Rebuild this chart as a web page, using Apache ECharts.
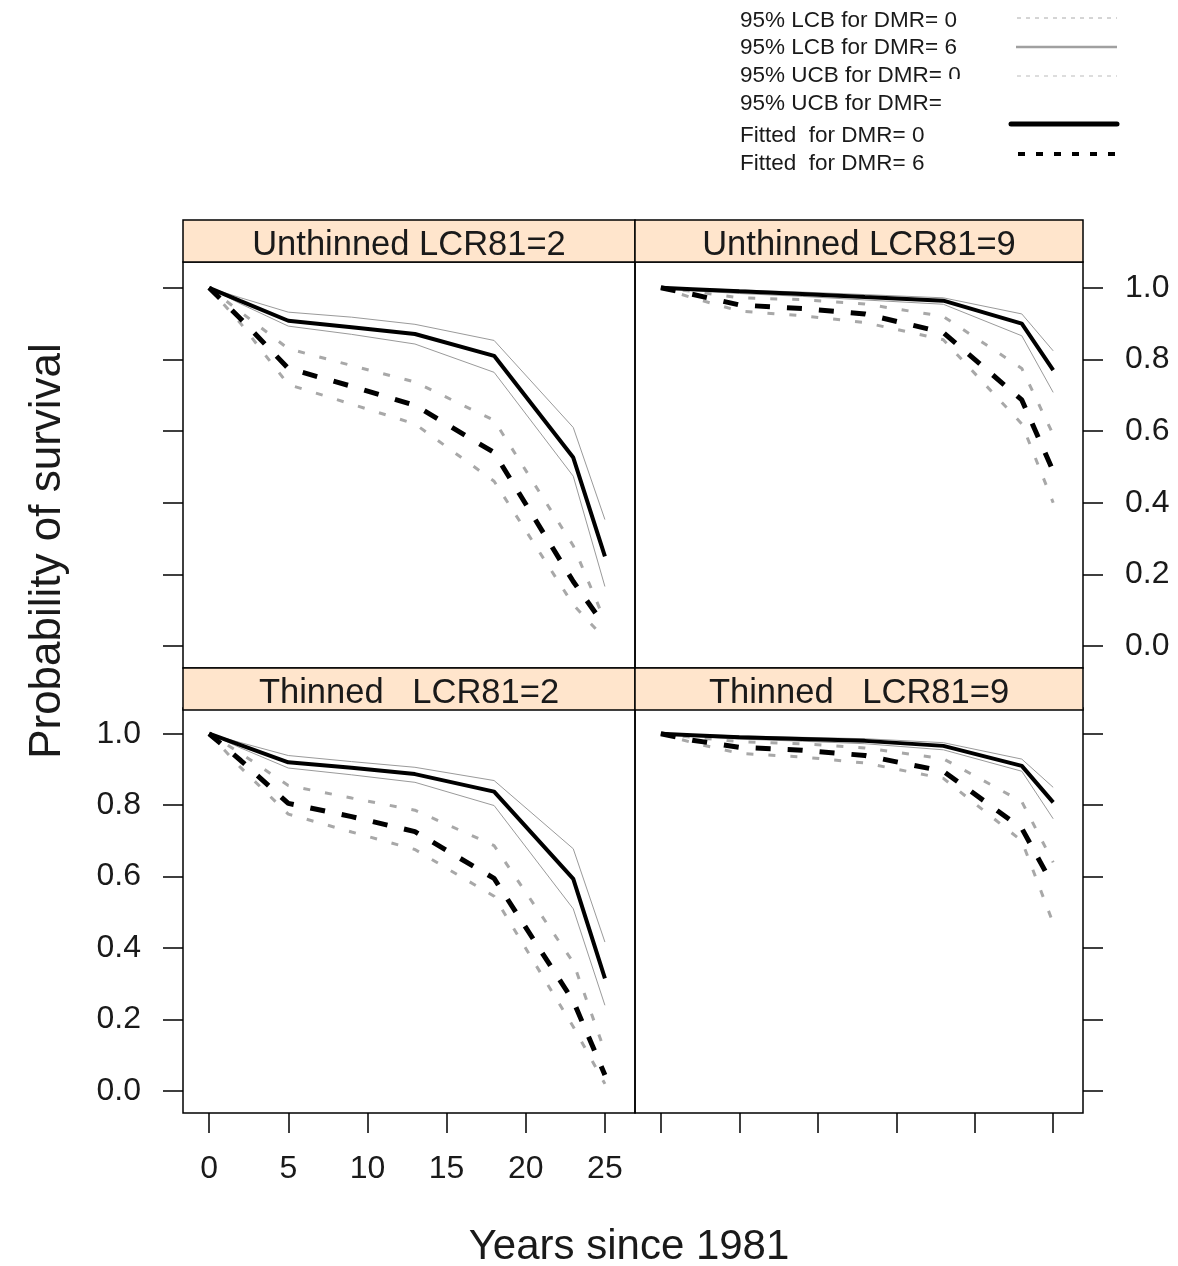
<!DOCTYPE html>
<html>
<head>
<meta charset="utf-8">
<title>Probability of survival</title>
<script src="https://cdn.jsdelivr.net/npm/echarts/dist/echarts.min.js"></script>
<style>
  html, body { margin: 0; padding: 0; background: #fff; }
  #chart { width: 1178px; height: 1266px; }
</style>
</head>
<body>
<div id="chart"></div>
<script>
// Survey years (years since 1981)
const years = [0, 2, 5, 9, 13, 18, 23, 25];

// Unthinned, LCR81 = 2
const ut2Fit0 = [1.0, 0.963, 0.908, 0.890, 0.871, 0.810, 0.526, 0.250];
const ut2Ucb0 = [1.0, 0.972, 0.932, 0.918, 0.898, 0.853, 0.610, 0.353];
const ut2Lcb0 = [1.0, 0.955, 0.893, 0.870, 0.843, 0.764, 0.474, 0.166];
const ut2Fit6 = [1.0, 0.913, 0.775, 0.725, 0.672, 0.540, 0.180, 0.055];
const ut2Ucb6 = [1.0, 0.932, 0.830, 0.783, 0.737, 0.630, 0.280, 0.070];
const ut2Lcb6 = [1.0, 0.900, 0.730, 0.675, 0.620, 0.460, 0.115, 0.020];

// Unthinned, LCR81 = 9
const ut9Fit0 = [1.0, 0.996, 0.990, 0.983, 0.974, 0.964, 0.900, 0.770];
const ut9Ucb0 = [1.0, 0.998, 0.994, 0.988, 0.981, 0.972, 0.927, 0.824];
const ut9Lcb0 = [1.0, 0.992, 0.984, 0.976, 0.966, 0.954, 0.866, 0.708];
const ut9Fit6 = [1.0, 0.982, 0.952, 0.942, 0.927, 0.875, 0.687, 0.488];
const ut9Ucb6 = [1.0, 0.990, 0.972, 0.967, 0.955, 0.920, 0.775, 0.590];
const ut9Lcb6 = [1.0, 0.972, 0.935, 0.922, 0.903, 0.855, 0.620, 0.400];

// Thinned, LCR81 = 2
const t2Fit0 = [1.0, 0.968, 0.920, 0.905, 0.887, 0.838, 0.594, 0.315];
const t2Ucb0 = [1.0, 0.975, 0.939, 0.922, 0.906, 0.869, 0.678, 0.417];
const t2Lcb0 = [1.0, 0.960, 0.904, 0.885, 0.864, 0.799, 0.510, 0.240];
const t2Fit6 = [1.0, 0.925, 0.805, 0.768, 0.726, 0.595, 0.252, 0.045];
const t2Ucb6 = [1.0, 0.945, 0.855, 0.820, 0.786, 0.687, 0.360, 0.110];
const t2Lcb6 = [1.0, 0.905, 0.775, 0.725, 0.676, 0.545, 0.180, 0.020];

// Thinned, LCR81 = 9
const t9Fit0 = [1.0, 0.996, 0.990, 0.985, 0.980, 0.966, 0.910, 0.808];
const t9Ucb0 = [1.0, 0.998, 0.994, 0.990, 0.986, 0.975, 0.929, 0.850];
const t9Lcb0 = [1.0, 0.993, 0.985, 0.979, 0.972, 0.955, 0.895, 0.762];
const t9Fit6 = [1.0, 0.982, 0.962, 0.954, 0.939, 0.895, 0.735, 0.575];
const t9Ucb6 = [1.0, 0.990, 0.978, 0.972, 0.960, 0.930, 0.810, 0.640];
const t9Lcb6 = [1.0, 0.975, 0.945, 0.935, 0.918, 0.875, 0.700, 0.470];

// Axis tick labels
const xTicks = [0, 5, 10, 15, 20, 25];
const yTicks = [0, 0.2, 0.4, 0.6, 0.8, 1.0];

// Panel titles
const stripTitles = ['Unthinned LCR81=2', 'Unthinned LCR81=9', 'Thinned   LCR81=2', 'Thinned   LCR81=9'];

// Legend entries
const legendLabels = [
  '95% LCB for DMR= 0',
  '95% LCB for DMR= 6',
  '95% UCB for DMR= 0',
  '95% UCB for DMR= 6',
  'Fitted  for DMR= 0',
  'Fitted  for DMR= 6'
];

const FONT = 'Liberation Sans, Arial, sans-serif';
const INK = '#1a1a1a';
const panelData = [
  { fit0: ut2Fit0, ucb0: ut2Ucb0, lcb0: ut2Lcb0, fit6: ut2Fit6, ucb6: ut2Ucb6, lcb6: ut2Lcb6 },
  { fit0: ut9Fit0, ucb0: ut9Ucb0, lcb0: ut9Lcb0, fit6: ut9Fit6, ucb6: ut9Ucb6, lcb6: ut9Lcb6 },
  { fit0: t2Fit0, ucb0: t2Ucb0, lcb0: t2Lcb0, fit6: t2Fit6, ucb6: t2Ucb6, lcb6: t2Lcb6 },
  { fit0: t9Fit0, ucb0: t9Ucb0, lcb0: t9Lcb0, fit6: t9Fit6, ucb6: t9Ucb6, lcb6: t9Lcb6 }
];

// Panel layout (pixels)
const colLeft = [183, 635];
const colWidth = [452, 448];
const stripTop = [220, 668];
const stripH = 42;
const bodyTop = [262, 708];
const bodyH = [406, 405];

const grids = [], xAxes = [], yAxes = [], series = [], graphics = [];

const pairs = arr => years.map((x, i) => [x, arr[i]]);

panelData.forEach((p, k) => {
  const row = Math.floor(k / 2), col = k % 2;
  grids.push({
    left: colLeft[col], top: bodyTop[row], width: colWidth[col], height: bodyH[row],
    show: true, borderColor: '#000', borderWidth: 1.5, backgroundColor: 'transparent'
  });
  const bottomRow = row === 1;
  xAxes.push({
    type: 'value', gridIndex: k, min: -1.65, max: 26.9, position: 'bottom',
    splitLine: { show: false },
    axisLine: { show: false, onZero: false },
    axisTick: { show: bottomRow, length: 20, inside: false, customValues: xTicks,
                lineStyle: { color: '#000', width: 1.5 } },
    axisLabel: { show: bottomRow && col === 0, customValues: xTicks, margin: 40,
                 fontSize: 32, fontFamily: FONT, color: INK }
  });
  const showYLabels = (row === 1 && col === 0) || (row === 0 && col === 1);
  yAxes.push({
    type: 'value', gridIndex: k, min: -0.0615, max: 1.072,
    position: col === 0 ? 'left' : 'right',
    splitLine: { show: false },
    axisLine: { show: false, onZero: false },
    axisTick: { show: true, length: 20, inside: false, customValues: yTicks,
                lineStyle: { color: '#000', width: 1.5 } },
    axisLabel: { show: showYLabels, customValues: yTicks, margin: 42,
                 fontSize: 32, fontFamily: FONT, color: INK,
                 formatter: v => v.toFixed(1) }
  });

  const base = { type: 'line', xAxisIndex: k, yAxisIndex: k, symbol: 'none',
                 showSymbol: false, silent: true, animation: false };
  // DMR = 6 interval bounds: grey dotted
  [p.ucb6, p.lcb6].forEach(arr => series.push(Object.assign({}, base, {
    data: pairs(arr), z: 2,
    lineStyle: { color: '#a8a8a8', width: 3, type: [7, 15], cap: 'butt' }
  })));
  // DMR = 0 interval bounds: thin grey
  [p.ucb0, p.lcb0].forEach(arr => series.push(Object.assign({}, base, {
    data: pairs(arr), z: 3,
    lineStyle: { color: '#9a9a9a', width: 1, type: 'solid' }
  })));
  // Fitted DMR = 6: black dashed
  series.push(Object.assign({}, base, {
    data: pairs(p.fit6), z: 4,
    lineStyle: { color: '#000', width: 5, type: [15, 17], cap: 'butt' }
  }));
  // Fitted DMR = 0: black solid
  series.push(Object.assign({}, base, {
    data: pairs(p.fit0), z: 5,
    lineStyle: { color: '#000', width: 4, type: 'solid' }
  }));

  // Strip with panel title
  graphics.push({
    type: 'rect', z: 10,
    shape: { x: colLeft[col], y: stripTop[row], width: colWidth[col], height: stripH },
    style: { fill: '#ffe5cc', stroke: '#000', lineWidth: 1.5 }
  });
  graphics.push({
    type: 'text', z: 11,
    x: colLeft[col] + colWidth[col] / 2, y: stripTop[row] + stripH / 2 + 4,
    style: { text: stripTitles[k], fontSize: 34.5, fontFamily: FONT, fill: INK,
             align: 'center', verticalAlign: 'middle' }
  });
});

// Axis titles
graphics.push({
  type: 'text', z: 11, x: 629, y: 1247,
  style: { text: 'Years since 1981', fontSize: 42, fontFamily: FONT, fill: INK,
           align: 'center', verticalAlign: 'middle' }
});
graphics.push({
  type: 'text', z: 11, x: 48, y: 551, rotation: Math.PI / 2,
  style: { text: 'Probability of survival', fontSize: 44, fontFamily: FONT, fill: INK,
           align: 'center', verticalAlign: 'middle' }
});

// Legend: labels and line samples
const legendY = [21, 48, 76, 104, 136, 164];
legendLabels.forEach((t, i) => {
  graphics.push({
    type: 'text', z: 11, x: 740, y: legendY[i],
    style: { text: t, fontSize: 22.5, fontFamily: FONT, fill: INK,
             align: 'left', verticalAlign: 'middle' }
  });
});
const legendKeys = [
  { y: 18, x1: 1017, stroke: '#aaaaaa', lineWidth: 1, lineDash: [4, 5] },
  { y: 47, x1: 1016, stroke: '#a0a0a0', lineWidth: 2.5, lineDash: null },
  { y: 76, x1: 1017, stroke: '#bbbbbb', lineWidth: 1, lineDash: [4, 5] },
  { y: 124, x1: 1011, stroke: '#000000', lineWidth: 5, lineDash: null, cap: 'round' },
  { y: 154, x1: 1018, stroke: '#000000', lineWidth: 4, lineDash: [7, 11] }
];
// white patch over the right end of the UCB rows
graphics.push({
  type: 'rect', z: 12,
  shape: { x: 944, y: 79, width: 180, height: 38 },
  style: { fill: '#ffffff' }
});
legendKeys.forEach(k => {
  graphics.push({
    type: 'line', z: 13,
    shape: { x1: k.x1, y1: k.y, x2: 1117, y2: k.y },
    style: { stroke: k.stroke, lineWidth: k.lineWidth, lineDash: k.lineDash,
             lineCap: k.cap || 'butt' }
  });
});

const chart = echarts.init(document.getElementById('chart'), null, { renderer: 'canvas' });
chart.setOption({
  backgroundColor: '#ffffff',
  animation: false,
  grid: grids,
  xAxis: xAxes,
  yAxis: yAxes,
  series: series,
  graphic: graphics
});
</script>
</body>
</html>
